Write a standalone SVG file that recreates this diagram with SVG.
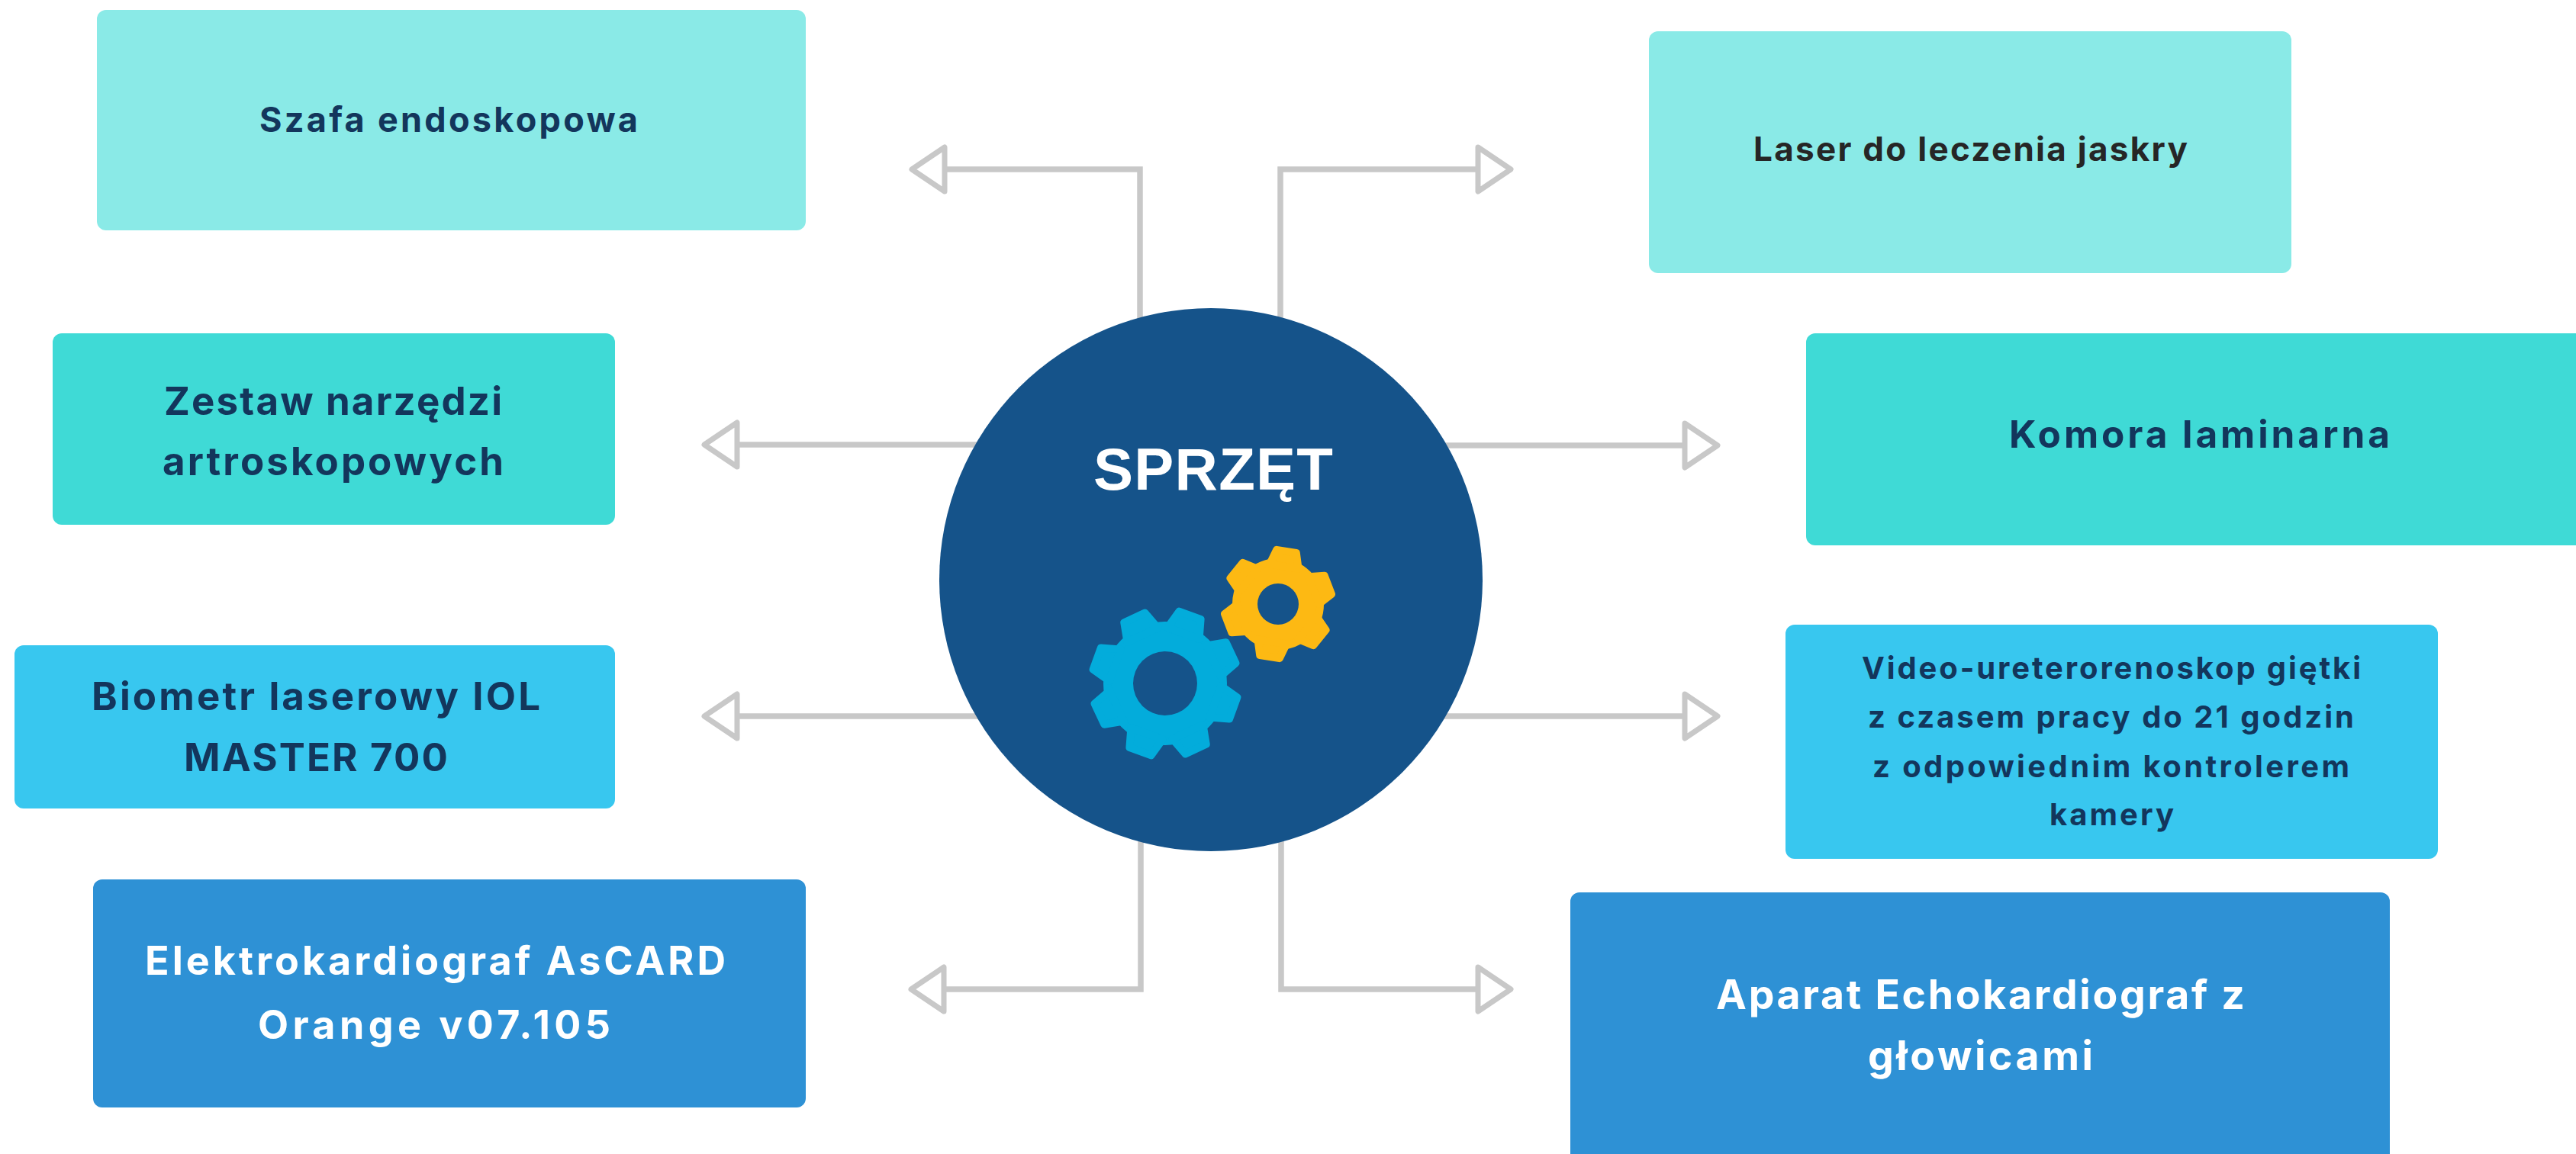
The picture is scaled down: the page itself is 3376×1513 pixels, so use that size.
<svg xmlns="http://www.w3.org/2000/svg" xmlns:xlink="http://www.w3.org/1999/xlink" width="3376" height="1513" viewBox="0 0 3376 1513">
<defs>
<style>
.bg{fill:#FFFFFF}
.conn{fill:none;stroke:#C8C8C8;stroke-width:7.5;stroke-linejoin:miter}
.head{fill:#FFFFFF;stroke:#C8C8C8;stroke-width:7;stroke-linejoin:round}
.c1{fill:#8AEAE7}
.c2{fill:#3FDAD6}
.c3{fill:#38C7EF}
.c4{fill:#2E91D5}
.lbl{font-family:Inter,"Liberation Sans",sans-serif;font-weight:700}
.title{font-family:"Liberation Sans",Arial,sans-serif;font-weight:bold}
.navy{fill:#13365C}
.dark{fill:#262626}
.white{fill:#FFFFFF}
.gearB{fill:#03ACDB;stroke:#03ACDB;stroke-width:10;stroke-linejoin:round}
.gearY{fill:#FDB913;stroke:#FDB913;stroke-width:10;stroke-linejoin:round}
.hole{fill:#15538A;stroke:none}
</style>
<marker id="arrow" markerUnits="userSpaceOnUse" viewBox="-6 -36 60 72" markerWidth="60" markerHeight="72" refX="0" refY="0" orient="auto" overflow="visible">
<path class="head" d="M0,-29 L43,0 L0,29 Z"/>
</marker>
<path id="toothB" d="M-22,-70 L-15,-95 L15,-95 L22,-70 Z"/>
<path id="toothY" d="M-19,-50 L-13,-70 L13,-70 L19,-50 Z"/>
</defs>
<rect class="bg" x="0" y="0" width="3376" height="1513"/>

<g id="connectors">
<path class="conn" d="M1494,520 V222 H1238" marker-end="url(#arrow)"/>
<path class="conn" d="M1678,520 V222 H1937" marker-end="url(#arrow)"/>
<path class="conn" d="M1400,583 H966" marker-end="url(#arrow)"/>
<path class="conn" d="M1780,584 H2208" marker-end="url(#arrow)"/>
<path class="conn" d="M1400,939 H966" marker-end="url(#arrow)"/>
<path class="conn" d="M1780,939 H2208" marker-end="url(#arrow)"/>
<path class="conn" d="M1495,1000 V1297 H1237" marker-end="url(#arrow)"/>
<path class="conn" d="M1679,1000 V1297 H1937" marker-end="url(#arrow)"/>
</g>

<g id="node-szafa">
<rect class="c1" x="127" y="13" width="929" height="289" rx="12"/>
<text class="lbl navy" x="340" y="173" font-size="45" textLength="496">Szafa endoskopowa</text>
</g>

<g id="node-zestaw">
<rect class="c2" x="69" y="437" width="737" height="251" rx="12"/>
<text class="lbl navy" x="215" y="544" font-size="51" textLength="443">Zestaw narzędzi</text>
<text class="lbl navy" x="213" y="623" font-size="51" textLength="447">artroskopowych</text>
</g>

<g id="node-biometr">
<rect class="c3" x="19" y="846" width="787" height="214" rx="12"/>
<text class="lbl navy" x="120" y="931" font-size="51" textLength="588">Biometr laserowy IOL</text>
<text class="lbl navy" x="241" y="1011" font-size="51" textLength="346">MASTER 700</text>
</g>

<g id="node-elektro">
<rect class="c4" x="122" y="1153" width="934" height="299" rx="12"/>
<text class="lbl white" x="190" y="1278" font-size="52" textLength="761">Elektrokardiograf AsCARD</text>
<text class="lbl white" x="338" y="1362" font-size="52" textLength="462">Orange v07.105</text>
</g>

<g id="node-laser">
<rect class="c1" x="2161" y="41" width="842" height="317" rx="12"/>
<text class="lbl dark" x="2298" y="211" font-size="44" textLength="569">Laser do leczenia jaskry</text>
</g>

<g id="node-komora">
<rect class="c2" x="2367" y="437" width="1040" height="278" rx="12"/>
<text class="lbl navy" x="2633" y="587" font-size="49.5" textLength="499">Komora laminarna</text>
</g>

<g id="node-video">
<rect class="c3" x="2340" y="819" width="855" height="307" rx="12"/>
<text class="lbl navy" x="2440" y="890" font-size="40" textLength="654">Video-ureterorenoskop giętki</text>
<text class="lbl navy" x="2448" y="954" font-size="40" textLength="637">z czasem pracy do 21 godzin</text>
<text class="lbl navy" x="2454" y="1019" font-size="40" textLength="625">z odpowiednim kontrolerem</text>
<text class="lbl navy" x="2686" y="1082" font-size="40" textLength="163">kamery</text>
</g>

<g id="node-echo">
<rect class="c4" x="2058" y="1170" width="1074" height="370" rx="12"/>
<text class="lbl white" x="2249" y="1323" font-size="53.5" textLength="693">Aparat Echokardiograf z</text>
<text class="lbl white" x="2448" y="1403" font-size="53.5" textLength="295">głowicami</text>
</g>

<g id="node-sprzet">
<circle cx="1587" cy="760" r="356" fill="#15538A"/>
<text class="title white" x="1433" y="642" font-size="78" textLength="314">SPRZĘT</text>
<g class="gearB">
<circle cx="1527" cy="896" r="76"/>
<use xlink:href="#toothB" transform="translate(1527,896) rotate(20)"/>
<use xlink:href="#toothB" transform="translate(1527,896) rotate(65)"/>
<use xlink:href="#toothB" transform="translate(1527,896) rotate(110)"/>
<use xlink:href="#toothB" transform="translate(1527,896) rotate(155)"/>
<use xlink:href="#toothB" transform="translate(1527,896) rotate(200)"/>
<use xlink:href="#toothB" transform="translate(1527,896) rotate(245)"/>
<use xlink:href="#toothB" transform="translate(1527,896) rotate(290)"/>
<use xlink:href="#toothB" transform="translate(1527,896) rotate(335)"/>
</g>
<circle class="hole" cx="1527" cy="896" r="42"/>
<g class="gearY">
<circle cx="1675" cy="792" r="55"/>
<use xlink:href="#toothY" transform="translate(1675,792) rotate(9)"/>
<use xlink:href="#toothY" transform="translate(1675,792) rotate(69)"/>
<use xlink:href="#toothY" transform="translate(1675,792) rotate(129)"/>
<use xlink:href="#toothY" transform="translate(1675,792) rotate(189)"/>
<use xlink:href="#toothY" transform="translate(1675,792) rotate(249)"/>
<use xlink:href="#toothY" transform="translate(1675,792) rotate(309)"/>
</g>
<circle class="hole" cx="1675" cy="792" r="27"/>
</g>
</svg>
